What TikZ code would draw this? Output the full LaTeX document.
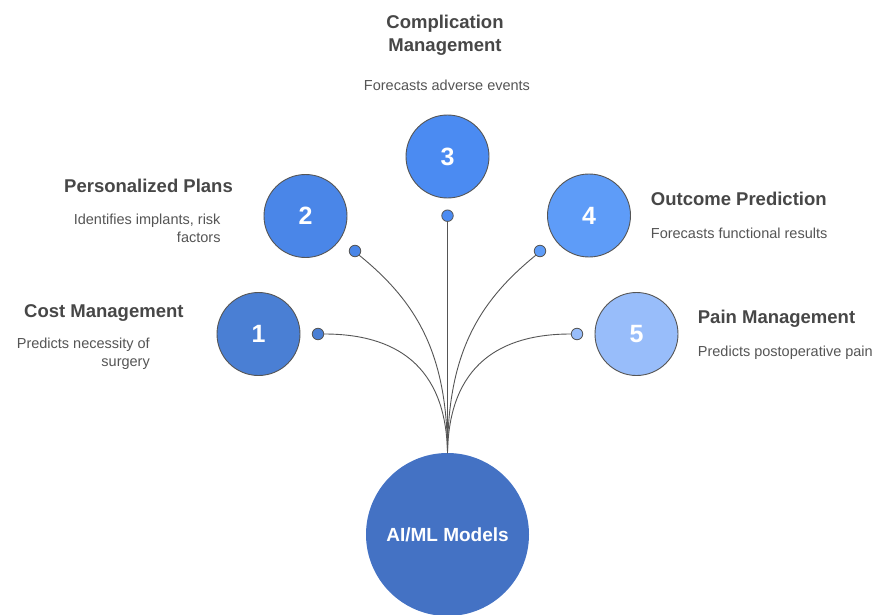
\documentclass[tikz,border=0pt]{standalone}
\usepackage{fontspec}
\setmainfont{Liberation Sans}
\definecolor{cA}{HTML}{4A7FD4}
\definecolor{cB}{HTML}{4A86E8}
\definecolor{cC}{HTML}{4B8BF2}
\definecolor{cD}{HTML}{5E9CF8}
\definecolor{cE}{HTML}{98BDFA}
\definecolor{cHub}{HTML}{4472C4}
\definecolor{edge}{HTML}{555555}
\definecolor{ttl}{HTML}{474747}
\definecolor{dsc}{HTML}{555555}
\begin{document}
\begin{tikzpicture}[x=1pt,y=-1pt,
  num/.style={circle, minimum size=83pt, inner sep=0pt, draw=edge, line width=0.9pt,
    text=white, font=\fontsize{25}{30}\selectfont\bfseries},
  dot/.style={circle, minimum size=11.5pt, inner sep=0pt, draw=edge, line width=0.8pt},
  hub/.style={circle, minimum size=163pt, inner sep=0pt, fill=cHub,
    text=white, font=\fontsize{19}{23}\selectfont\bfseries},
  title/.style={inner sep=0pt, text=ttl, font=\fontsize{18.5}{23.5}\selectfont\bfseries},
  desc/.style={inner sep=0pt, text=dsc, font=\fontsize{14.5}{18}\selectfont},
  link/.style={draw=edge, line width=0.9pt}]
\useasboundingbox (0,0) rectangle (881,615);
\fill[white] (0,0) rectangle (881,615);

% hub
\node[hub] (hub) at (447.5,534.5) {AI/ML Models};
\coordinate (top) at (447.5,453);

% numbered circles
\node[num, fill=cA] (n1) at (258.5,334) {1};
\node[num, fill=cB] (n2) at (305.5,216) {2};
\node[num, fill=cC] (n3) at (447.5,156.5) {3};
\node[num, fill=cD] (n4) at (589,215.5) {4};
\node[num, fill=cE] (n5) at (636.5,334) {5};

% dots
\node[dot, fill=cA] (d1) at (318,334) {};
\node[dot, fill=cB] (d2) at (355,251) {};
\node[dot, fill=cC] (d3) at (447.5,215.7) {};
\node[dot, fill=cD] (d4) at (540,251) {};
\node[dot, fill=cE] (d5) at (577,334) {};

% connectors
\draw[link] (d1.east) .. controls (395,334) and (446,365) .. (top);
\draw[link] (d2.south east) .. controls (418,303) and (447,355) .. (top);
\draw[link] (d3.south) -- (top);
\draw[link] (d4.south west) .. controls (477,303) and (448,355) .. (top);
\draw[link] (d5.west) .. controls (500,334) and (449,365) .. (top);

% texts
\node[title, anchor=base west] (t1) at (24,317) {Cost Management};
\node[desc, anchor=base east, align=right] (s1) at (150,366) {Predicts necessity of\\surgery};

\node[title, anchor=base west] (t2) at (64,193) {Personalized Plans};
\node[desc, anchor=base east, align=right] (s2) at (220.7,242) {Identifies implants, risk\\factors};

\node[title, anchor=base, align=center] (t3) at (445,52) {Complication\\Management};
\node[desc, anchor=base] (s3) at (447,91) {Forecasts adverse events};

\node[title, anchor=base west] (t4) at (650.7,205) {Outcome Prediction};
\node[desc, anchor=base west] (s4) at (650.7,238) {Forecasts functional results};

\node[title, anchor=base west] (t5) at (697.7,323.5) {Pain Management};
\node[desc, anchor=base west] (s5) at (697.7,356.5) {Predicts postoperative pain};
\end{tikzpicture}
\end{document}
